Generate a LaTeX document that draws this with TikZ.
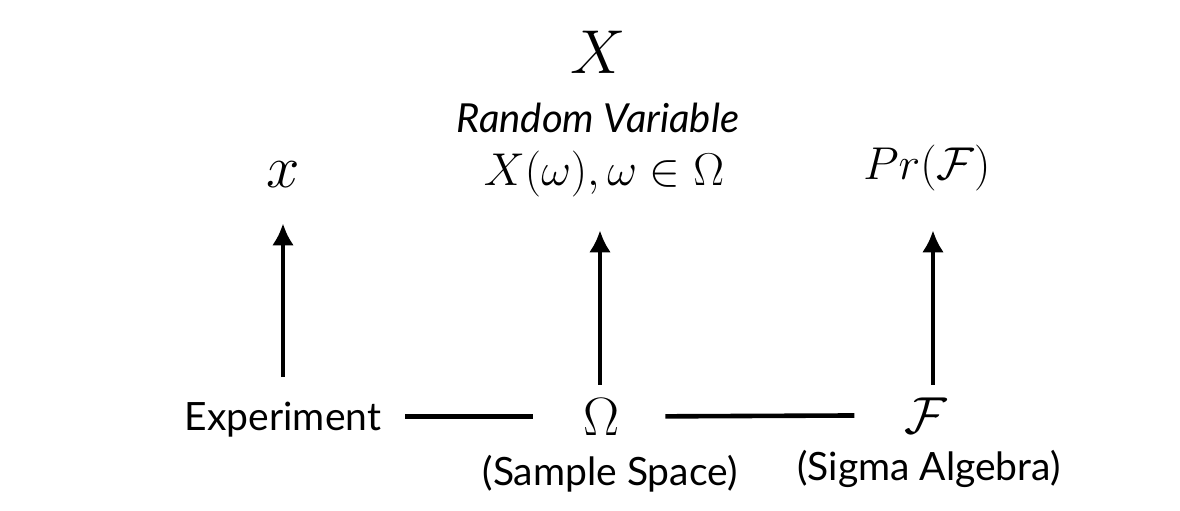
\RequirePackage{fix-cm}
\documentclass[tikz,border=0pt]{standalone}
\usepackage[no-math]{fontspec}
\setmainfont{Lato}
\usetikzlibrary{arrows.meta}
\tikzset{>={Latex[length=11pt,width=11pt]}}
\tikzset{
  lbl/.style = {inner sep=0, anchor=base},
  link/.style = {line width=2.3pt}
}
\newcommand{\fs}[1]{\fontsize{#1}{#1}\selectfont}

\begin{document}
\begin{tikzpicture}[x=0.5pt,y=-0.5pt]
  \useasboundingbox (0,0) rectangle (1180,510);
  % top row
  \node[lbl] (X) at (598,73) {\fs{31}$X$};
  \node[lbl] (rv) at (598,132) {\fs{20}\itshape Random Variable};
  \node[lbl] (Xw) at (604,185) {\fs{23}$X(\omega),\omega\in\Omega$};
  \node[lbl] (x) at (283,187) {\fs{30}$x$};
  \node[lbl] (PrF) at (927,179) {\fs{23}$Pr(\mathcal{F})$};
  % bottom row
  \node[lbl] (expt) at (283,430) {\fs{19.5}Experiment};
  \node[lbl] (Omega) at (602,435) {\fs{27}$\Omega$};
  \node[lbl] (F) at (926,433) {\fs{26}$\mathcal{F}$};
  \node[lbl] (sample) at (610,485) {\fs{19.5}(Sample Space)};
  \node[lbl] (sigma) at (929,480) {\fs{19.5}(Sigma Algebra)};
  % arrows up
  \draw[link,->,shorten <=12pt,shorten >=18pt] (expt.north) -- (expt.north |- x.south);
  \draw[link,->,shorten <=6.5pt,shorten >=16.75pt] ([xshift=-1pt]Omega.north) -- ([xshift=-1pt]Omega.north |- Xw.south);
  \draw[link,->,shorten <=6.25pt,shorten >=19.75pt] ([xshift=3.5pt]F.north) -- ([xshift=3.5pt]F.north |- PrF.south);
  % plain links
  \draw[link,shorten <=12pt,shorten >=25.5pt] (Omega.west -| expt.east) -- (Omega.west);
  \draw[link,shorten <=22.5pt,shorten >=25pt] (Omega.east) -- (F.west);
\end{tikzpicture}
\end{document}
